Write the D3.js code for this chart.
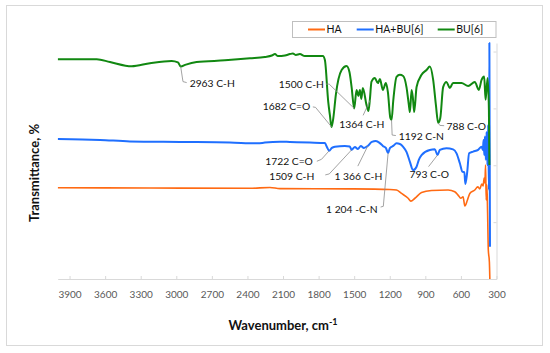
<!DOCTYPE html>
<html>
<head>
<meta charset="utf-8">
<script src="https://cdn.jsdelivr.net/npm/d3@7"></script>
<style>
  body { margin: 0; background: #fff; }
  svg { display: block; font-family: Lato, "Open Sans", sans-serif; }
</style>
</head>
<body>
<svg width="550" height="353"></svg>
<script>
// wavenumber (cm-1), transmittance (arbitrary, offset traces)
const buWn = [4000, 3671, 3559, 3376, 3222, 3039, 2986, 2963, 2919, 2829, 2590, 2379, 2253, 2194, 2168, 2143, 2084, 2042, 2017, 1991, 1958, 1916, 1764, 1747, 1719, 1705, 1691, 1676, 1655, 1606, 1564, 1540, 1522, 1500, 1480, 1465, 1452, 1440, 1427, 1396, 1380, 1368, 1354, 1326, 1300, 1283, 1258, 1233, 1216, 1195, 1185, 1170, 1143, 1115, 1087, 1059, 1039, 1030, 1016, 1005, 994, 974, 932, 890, 862, 834, 811, 792, 774, 750, 722, 694, 666, 595, 539, 483, 449, 426, 404, 392, 375, 364, 360];
const buT = [77.3, 77.3, 76.3, 74.8, 75.9, 76.7, 76.2, 74.7, 75.4, 76.3, 76.9, 77.6, 78.1, 78.6, 79.1, 78.4, 78.6, 79.1, 79.3, 78.8, 79.1, 78.4, 78.4, 77.0, 62.4, 57.7, 53.5, 56.6, 64.7, 73.5, 74.9, 72.8, 67.6, 60.0, 66.5, 64.4, 66.5, 63.3, 67.2, 61.2, 59.1, 63.0, 69.4, 70.7, 68.9, 70.3, 66.5, 68.9, 65.8, 56.6, 55.9, 63.0, 71.1, 71.8, 71.4, 67.5, 61.2, 58.7, 66.5, 63.7, 58.7, 67.5, 71.8, 73.5, 74.7, 70.0, 61.2, 54.9, 56.6, 67.5, 69.3, 67.2, 68.9, 68.9, 67.9, 69.3, 66.5, 70.0, 71.2, 63.0, 70.7, 59.4, 40.1];

const mixWn = [4000, 3643, 3391, 2969, 2548, 2312, 2253, 2126, 2042, 1873, 1747, 1730, 1711, 1688, 1663, 1579, 1537, 1522, 1494, 1469, 1444, 1418, 1385, 1351, 1317, 1284, 1258, 1233, 1214, 1199, 1171, 1143, 1115, 1087, 1059, 1031, 1003, 974, 955, 932, 862, 820, 797, 778, 722, 666, 637, 609, 587, 571, 563, 548, 531, 497, 455, 426, 415, 409, 403, 398, 390, 384, 377, 370, 364, 360, 355];
const mixT = [49.2, 48.9, 48.4, 48.2, 48.0, 47.7, 48.0, 48.3, 48.2, 48.0, 47.8, 46.4, 45.1, 46.1, 46.5, 46.8, 46.6, 45.4, 46.4, 45.7, 46.8, 46.1, 46.8, 48.2, 48.5, 47.8, 46.8, 46.1, 44.3, 46.0, 46.8, 47.7, 47.5, 46.5, 44.7, 41.3, 38.3, 39.5, 41.9, 43.6, 45.4, 45.6, 43.6, 45.4, 46.0, 45.6, 44.2, 40.7, 37.7, 37.6, 33.4, 37.2, 44.2, 44.8, 45.4, 46.5, 45.4, 48.9, 43.6, 50.1, 41.9, 51.7, 40.1, 54.2, 31.3, 83.0, 11.3];

const haWn = [4000, 3222, 2379, 2210, 2126, 1537, 1199, 1143, 1101, 1045, 1022, 988, 932, 848, 708, 652, 624, 601, 582, 567, 545, 525, 483, 458, 441, 424, 413, 404, 398, 392, 387, 381, 375, 369, 360, 355];
const haT = [32.1, 32.0, 31.9, 32.2, 31.8, 31.7, 31.5, 31.3, 30.1, 28.4, 27.4, 28.4, 30.4, 31.1, 31.3, 30.7, 29.5, 28.4, 28.9, 25.7, 27.8, 30.1, 31.3, 32.4, 31.7, 33.4, 32.7, 35.5, 33.8, 40.1, 27.8, 33.1, 23.2, 10.2, 6.0, -2.1];

const xTicks = [3900, 3600, 3300, 3000, 2700, 2400, 2100, 1800, 1500, 1200, 900, 600, 300];
const yTicks = [0, 20, 40, 60, 80];

const seriesNames = ["HA", "HA+BU[6]", "BU[6]"];
const seriesColors = ["#ff6a13", "#1f6fff", "#118811"];

// band assignments: label, peak [wavenumber, transmittance]
const annoText = ["2963 C-H", "1500 C-H", "1682 C=O", "1364 C-H", "1192 C-N", "788 C-O",
  "1722 C=O", "1509 C-H", "1 366 C-H", "793 C-O", "1 204 -C-N"];
const annoPeak = [[2963, 74.7], [1500, 60.0], [1691, 53.5], [1364, 63.0], [1185, 55.9], [792, 54.9],
  [1711, 45.1], [1522, 45.4], [1385, 46.8], [797, 43.6], [1214, 44.3]];

const svg = d3.select("svg");

svg.append("rect")
  .attr("x", 6.5).attr("y", 5.5)
  .attr("width", 536).attr("height", 340)
  .attr("fill", "#fff")
  .attr("stroke", "#d9d9d9");

const plotL = 57.7, plotR = 496.5, plotT = 43, plotB = 279;

const x = d3.scaleLinear().domain([4000, 300]).range([plotL, plotR]);
const y = d3.scaleLinear().domain([0, 83]).range([plotB, plotT]);

svg.append("defs").append("clipPath").attr("id", "clip")
  .append("rect")
  .attr("x", plotL).attr("y", plotT - 2)
  .attr("width", plotR - plotL).attr("height", plotB - plotT + 2);

// bottom axis
const gx = svg.append("g")
  .attr("transform", `translate(0,${plotB})`)
  .call(d3.axisBottom(x).tickValues(xTicks).tickFormat(d3.format("d"))
    .tickSize(-3).tickPadding(12).tickSizeOuter(0));
gx.select(".domain").attr("stroke", "#d9d9d9");
gx.selectAll(".tick line").attr("stroke", "#d9d9d9");
gx.selectAll(".tick text")
  .attr("fill", "#595959")
  .attr("font-size", "10px")
  .attr("font-family", "Lato, sans-serif");

// right frame with ticks
const gy = svg.append("g")
  .attr("transform", `translate(${plotR},0)`)
  .call(d3.axisRight(y).tickValues(yTicks).tickSize(-3).tickFormat("").tickSizeOuter(0));
gy.select(".domain").attr("stroke", "#d9d9d9");
gy.selectAll(".tick line").attr("stroke", "#d9d9d9");

// traces
const line = d3.line()
  .x(d => x(d[0]))
  .y(d => y(d[1]))
  .curve(d3.curveMonotoneX);

const traces = [
  d3.zip(haWn, haT),
  d3.zip(mixWn, mixT),
  d3.zip(buWn, buT)
];

svg.append("g")
  .attr("clip-path", "url(#clip)")
  .selectAll("path")
  .data(traces)
  .enter().append("path")
  .attr("fill", "none")
  .attr("stroke", (d, i) => seriesColors[i])
  .attr("stroke-width", (d, i) => i === 0 ? 1.6 : 2)
  .attr("stroke-linejoin", "round")
  .attr("d", line);

// annotations: leader offsets (px) from the peak, text position relative to peak
const annoLayout = [
  { pts: [[2.3, 15], [6, 16]], tx: 9, ty: 16.5, anchor: "start" },
  { pts: [[-25, -24.3], [-28.3, -24.3]], tx: -30.3, ty: -24.3, anchor: "end" },
  { pts: [[-16, -19.5], [-18.7, -20]], tx: -21.2, ty: -20, anchor: "end" },
  { pts: [[-7.2, 15.5]], tx: -8.5, ty: 24.7, anchor: "middle" },
  { pts: [[0.6, 15], [4.3, 15.5]], tx: 7.3, ty: 16, anchor: "start" },
  { pts: [[1.7, 2.5], [6, 2.8]], tx: 8.4, ty: 3, anchor: "start" },
  { pts: [[-7.6, 8.5], [-12.3, 10.5]], tx: -16.3, ty: 10.7, anchor: "end" },
  { pts: [[-22.3, 24], [-26.3, 25]], tx: -37.3, ty: 26, anchor: "end" },
  { pts: [[-10, 20.2]], tx: -33.3, ty: 30.2, anchor: "start" },
  { pts: [[-9, 11.6]], tx: -28, ty: 19.3, anchor: "start" },
  { pts: [[-4.8, 53.3], [-7.5, 54]], tx: -10.5, ty: 56, anchor: "end" }
];

const ga = svg.append("g");
annoText.forEach((t, i) => {
  const px = x(annoPeak[i][0]), py = y(annoPeak[i][1]);
  const L = annoLayout[i];
  const pts = [[px, py]].concat(L.pts.map(p => [px + p[0], py + p[1]]));
  ga.append("path")
    .attr("d", d3.line()(pts))
    .attr("fill", "none")
    .attr("stroke", "#8c8c8c")
    .attr("stroke-width", 0.8);
  ga.append("text")
    .attr("x", px + L.tx)
    .attr("y", py + L.ty)
    .attr("dy", "0.35em")
    .attr("text-anchor", L.anchor)
    .attr("font-size", "10.3px")
    .attr("fill", "#111")
    .text(t);
});

// legend
const lg = svg.append("g");
lg.append("rect")
  .attr("x", 292.5).attr("y", 21.5)
  .attr("width", 203.5).attr("height", 16)
  .attr("fill", "#fff")
  .attr("stroke", "#bfbfbf");
const legX = [308, 356.7, 437.7];
seriesNames.forEach((n, i) => {
  lg.append("line")
    .attr("x1", legX[i]).attr("x2", legX[i] + 17)
    .attr("y1", 29.5).attr("y2", 29.5)
    .attr("stroke", seriesColors[i])
    .attr("stroke-width", 2);
  lg.append("text")
    .attr("x", legX[i] + 18.5)
    .attr("y", 29.5)
    .attr("dy", "0.35em")
    .attr("font-size", "10.5px")
    .attr("fill", "#111")
    .text(n);
});

// axis titles
svg.append("text")
  .attr("x", 283)
  .attr("y", 330)
  .attr("text-anchor", "middle")
  .attr("font-size", "13px")
  .attr("font-weight", "bold")
  .attr("fill", "#111")
  .text("Wavenumber, cm")
  .append("tspan")
  .attr("dy", -5)
  .attr("font-size", "9px")
  .text("-1");

svg.append("text")
  .attr("transform", "rotate(-90)")
  .attr("x", -173)
  .attr("y", 39)
  .attr("text-anchor", "middle")
  .attr("font-size", "13px")
  .attr("font-weight", "bold")
  .attr("fill", "#111")
  .text("Transmittance, %");
</script>
</body>
</html>
